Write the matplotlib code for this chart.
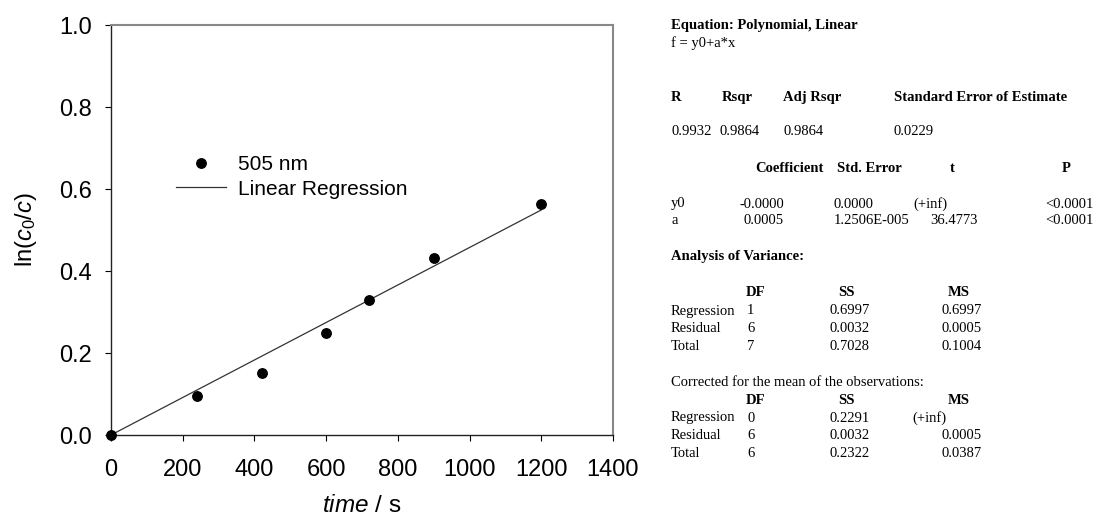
import numpy as np
import matplotlib
matplotlib.use("Agg")
import matplotlib.pyplot as plt

# Absorbance decay at 505 nm: ln(c0/c) versus time
time_s = [0, 240, 420, 600, 720, 900, 1200]
ln_ratio = [0.000, 0.095, 0.152, 0.250, 0.329, 0.432, 0.563]

x_ticks = [0, 200, 400, 600, 800, 1000, 1200, 1400]
y_ticks = [0.0, 0.2, 0.4, 0.6, 0.8, 1.0]

# Regression fit (y0 fixed at zero, slope a)
t_arr = np.array(time_s, dtype=float)
y_arr = np.array(ln_ratio, dtype=float)
slope = np.sum(t_arr * y_arr) / np.sum(t_arr ** 2)
fit_x = np.array([time_s[0], time_s[-1]], dtype=float)
fit_y = slope * fit_x

plt.rcParams["font.family"] = ["Liberation Sans", "DejaVu Sans"]
plt.rcParams["mathtext.fontset"] = "custom"
plt.rcParams["mathtext.rm"] = "Liberation Sans"
plt.rcParams["mathtext.it"] = "Liberation Sans:italic"

W, H = 1096, 521
fig = plt.figure(figsize=(W / 100, H / 100), dpi=100)
ax = fig.add_axes([111 / W, 1 - 435 / H, (613 - 111) / W, (435 - 25) / H])

ax.plot(fit_x, fit_y, color="#333333", lw=0.9, label="Linear Regression", zorder=2)
ax.plot(time_s, ln_ratio, "o", color="black", ms=6.8, label="505 nm",
        clip_on=False, zorder=3)

ax.set_xlim(0, 1400)
ax.set_ylim(0, 1.0)
ax.set_xticks(x_ticks)
ax.set_yticks(y_ticks)
ax.set_xticklabels([str(v) for v in x_ticks])
ax.set_yticklabels([f"{v:.1f}" for v in y_ticks])
ax.tick_params(direction="out", length=4, width=0.8, labelsize=17, colors="black")
ax.tick_params(axis="x", pad=13)
ax.tick_params(axis="y", pad=10)

for side in ("left", "bottom"):
    ax.spines[side].set_color("#222222")
    ax.spines[side].set_linewidth(1.0)
for side in ("top", "right"):
    ax.spines[side].set_color("#888888")
    ax.spines[side].set_linewidth(1.5)

ax.set_xlabel(r"$\mathit{time}$ / s", fontsize=17.5, labelpad=10)
ax.set_ylabel(r"ln($\mathit{c}_{\mathit{0}}$/$\mathit{c}$)", fontsize=17, labelpad=14)

handles, labels = ax.get_legend_handles_labels()
leg = ax.legend(handles[::-1], labels[::-1], loc="upper left",
                bbox_to_anchor=(176 / W, 1 - 155 / H), bbox_transform=fig.transFigure,
                frameon=False, fontsize=15, handlelength=2.4, handletextpad=0.6,
                labelspacing=0.27, borderpad=0, borderaxespad=0)

# Regression report
serif = "Liberation Serif"
fs = 10.5

def put(x, y, s, bold=False, ha="left"):
    fig.text(x / W, 1 - y / H, s, family=serif, fontsize=fs,
             fontweight="bold" if bold else "normal", va="center", ha=ha)

put(671, 26, "Equation: Polynomial, Linear", True)
put(671, 43, "f = y0+a*x")

put(671, 97, "R", True)
put(722, 97, "Rsqr", True)
put(783, 97, "Adj Rsqr", True)
put(894, 97, "Standard Error of Estimate", True)

put(671, 132, "0.9932")
put(719, 132, "0.9864")
put(783, 132, "0.9864")
put(894, 132, "0.0229")

put(755, 168, "Coefficient", True)
put(837, 168, "Std. Error", True)
put(950, 168, "t", True)
put(1062, 168, "P", True)

put(671, 204, "y0")
put(740, 204, "-0.0000")
put(834, 204, "0.0000")
put(913, 204, "(+inf)")
put(1094, 204, "<0.0001", ha="right")
put(671, 220, "a")
put(743, 220, "0.0005")
put(834, 220, "1.2506E-005")
put(930, 220, "36.4773")
put(1094, 220, "<0.0001", ha="right")

put(671, 257, "Analysis of Variance:", True)
put(746, 293, "DF", True)
put(838, 293, "SS", True)
put(948, 293, "MS", True)
anova1 = [("Regression", "1", "0.6997", "0.6997"),
          ("Residual", "6", "0.0032", "0.0005"),
          ("Total", "7", "0.7028", "0.1004")]
for i, (name, df, ss, ms) in enumerate(anova1):
    yy = 311 + 17.6 * i
    put(671, yy, name)
    put(747, yy, df)
    put(830, yy, ss)
    put(942, yy, ms)

put(671, 383, "Corrected for the mean of the observations:")
put(746, 401, "DF", True)
put(838, 401, "SS", True)
put(948, 401, "MS", True)
anova2 = [("Regression", "0", "0.2291", "(+inf)"),
          ("Residual", "6", "0.0032", "0.0005"),
          ("Total", "6", "0.2322", "0.0387")]
for i, (name, df, ss, ms) in enumerate(anova2):
    yy = 418 + 17.6 * i
    put(671, yy, name)
    put(747, yy, df)
    put(830, yy, ss)
    put(912 if ms.startswith("(") else 942, yy, ms)

fig.savefig("out.png", dpi=100, facecolor="white")
